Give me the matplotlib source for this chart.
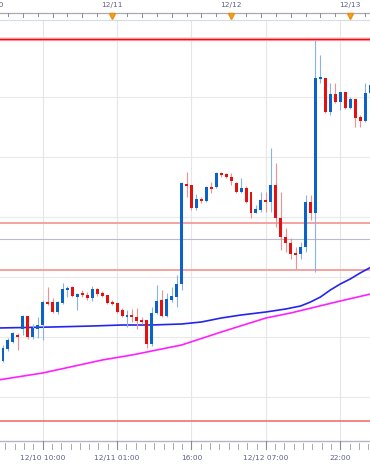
import matplotlib
matplotlib.use('Agg')
import matplotlib.pyplot as plt

# hourly candles, hour 0 = 12/10 00:00 ; prices in chart units
hours = list(range(2, 77))
opens = [80, 92, 99, 106, 112, 125, 104, 112, 116, 139, 139, 129, 138, 151, 154, 144, 148, 146, 143, 152,
         148, 146, 139, 138, 131, 124, 126, 124, 121, 121, 97, 128, 141, 125, 141, 144, 157, 257, 256, 233,
         242, 240, 254, 254, 268, 267, 264, 258, 249, 253, 249, 228, 231, 241, 239, 256, 223, 204, 198, 188,
         187, 194, 239, 228, 362, 363, 329, 347, 339, 349, 333, 342, 324, 320, 348]
highs = [96, 103, 109, 108, 126, 125, 117, 124, 141, 154, 143, 140, 158, 155, 155, 148, 151, 149, 155, 153,
         150, 146, 141, 138, 133, 131, 132, 133, 124, 121, 134, 156, 151, 148, 154, 166, 259, 269, 256, 247,
         244, 255, 259, 269, 269, 268, 268, 259, 263, 255, 249, 236, 249, 249, 293, 278, 249, 213, 203, 194,
         199, 246, 246, 401, 386, 363, 358, 358, 349, 349, 344, 342, 326, 358, 359]
lows = [79, 90, 98, 91, 106, 102, 102, 103, 101, 136, 128, 127, 137, 144, 144, 131, 144, 141, 140, 145,
        144, 137, 136, 128, 124, 114, 119, 112, 117, 93, 95, 127, 124, 124, 139, 134, 151, 244, 231, 231,
        238, 239, 248, 253, 264, 263, 256, 248, 248, 238, 223, 228, 229, 229, 229, 214, 191, 189, 182, 172,
        182, 189, 221, 169, 358, 328, 326, 338, 331, 332, 332, 314, 314, 319, 328]
closes = [93, 101, 108, 104, 125, 104, 113, 116, 139, 137, 129, 139, 152, 153, 145, 147, 146, 143, 152, 147,
          145, 138, 137, 129, 125, 126, 124, 120, 119, 97, 128, 140, 125, 142, 145, 157, 258, 255, 233, 242,
          240, 254, 252, 268, 266, 264, 260, 249, 253, 239, 228, 232, 241, 239, 256, 223, 204, 198, 187, 186,
          194, 239, 228, 363, 364, 329, 347, 339, 349, 333, 342, 323, 320, 348, 356]

# moving averages (read at a few hours)
ma_fast_h = [1, 12, 20, 26, 32, 38, 42, 46, 50, 55, 59, 62, 64, 66, 68, 70, 72, 74, 77]
ma_fast_v = [113, 114, 115, 116, 116, 117, 119, 123, 126, 129, 132, 135, 139, 144, 151, 157, 162, 168, 176]
ma_slow_h = [1, 10, 22, 28, 38, 46, 55, 60, 65, 70, 77]
ma_slow_v = [61, 68, 81, 86, 96, 109, 123, 128, 134, 140, 148]

# horizontal levels
red_levels = [402, 20]
pink_levels = [218, 171]
pivot_level = 202
grid_levels = [44, 104, 164, 224, 284, 344, 404]

day_hours = [0, 24, 48, 72]
day_labels = ['12/10', '12/11', '12/12', '12/13']
bottom_hours = [10, 25, 40, 55, 70]
bottom_labels = ['12/10 10:00', '12/11 01:00', '16:00', '12/12 07:00', '22:00']

W, H = 370, 466
x0, x1 = 1.395, 75.99
fig = plt.figure(figsize=(W / 100, H / 100), dpi=100)
ax = fig.add_axes([0, 25 / H, 1, 421 / H])
ax.set_xlim(x0, x1)
ax.set_ylim(0, 421)
for s in ax.spines.values():
    s.set_visible(False)
ax.set_xticks([])
ax.set_yticks([])

def yf(py):
    # pixel row -> axes fraction
    return (441 - py) / 421

trans = ax.get_xaxis_transform()
txtc = '#5c5f8e'

# grid
for v in grid_levels:
    ax.axhline(v, color='#e9e9e9', lw=0.8, zorder=0)
for h in bottom_hours:
    ax.axvline(h, color='#e6e6e6', lw=0.8, zorder=0)

# levels
ax.axhline(pivot_level, color='#b9bad2', lw=0.8, zorder=1)
for v in pink_levels:
    ax.axhline(v, color='#f59a9a', lw=1.3, zorder=1)
ax.axhline(red_levels[0], color='#ffb0b0', lw=2.4, zorder=1)
ax.axhline(red_levels[0], color='#e8101a', lw=1.0, zorder=1)
ax.axhline(red_levels[1], color='#f26565', lw=1.1, zorder=1)

# moving averages
ax.plot(ma_slow_h, ma_slow_v, color='#ff20ff', lw=1.2, zorder=2)
ax.plot(ma_fast_h, ma_fast_v, color='#2424f0', lw=1.2, zorder=2)

# candles
for h, o, hi, lo, c in zip(hours, opens, highs, lows, closes):
    up = c >= o
    wick = '#88b3e6' if up else '#f29090'
    body = '#0c62c9' if up else '#e21212'
    ax.vlines(h, lo, hi, color=wick, lw=0.8, zorder=3)
    hgt = max(abs(c - o), 1.2)
    ax.bar(h, hgt, bottom=min(o, c), width=0.6, color=body, lw=0, zorder=4)

# top time axis
ax.plot([x0, x1], [yf(12.5), yf(12.5)], color='#a9a9b4', lw=0.9, transform=trans, clip_on=False)
ax.plot([x0, x1], [yf(20), yf(20)], color='#d6dbe8', lw=0.8, transform=trans, clip_on=False)
for h in range(0, 78, 3):
    bot = 17 if h % 6 == 0 else 15.5
    ax.plot([h, h], [yf(12.5), yf(bot)], color='#8a8a96', lw=0.7, transform=trans, clip_on=False)
for h, lab in zip(day_hours, day_labels):
    ax.text(h, yf(5.5), lab, color=txtc, fontsize=5.3, ha='center', va='center',
            transform=trans, clip_on=False)
    ax.plot(h, yf(15.5), marker='v', ms=4.2, color='#f4a21c', mec='#e89010',
            transform=trans, clip_on=False, zorder=5)

# bottom time axis
ax.plot([x0, x1], [yf(441), yf(441)], color='#b4b6c4', lw=1.0, transform=trans, clip_on=False)
k = 0
step = 15 / 8
h = 10 - 8 * step
while h <= x1 + 1:
    if k % 8 == 0:
        ax.plot([h, h], [yf(441), yf(449)], color='#8a8a96', lw=0.8, transform=trans, clip_on=False)
    else:
        top = 444 if k % 2 == 1 else 443
        ax.plot([h, h], [yf(top), yf(448.5)], color='#9a9aa6', lw=0.6, transform=trans, clip_on=False)
    h += step
    k += 1
for h, lab in zip(bottom_hours, bottom_labels):
    ax.text(h, yf(458), lab, color=txtc, fontsize=5.3, ha='center', va='center',
            transform=trans, clip_on=False)

fig.savefig('out.png', dpi=100)
